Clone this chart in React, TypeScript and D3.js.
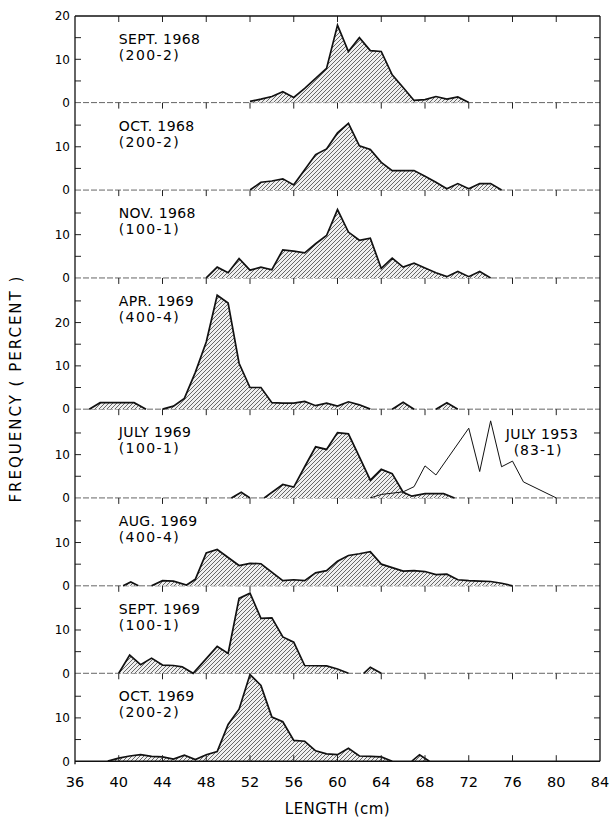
import React, { useEffect, useRef } from 'react';
import * as d3 from 'd3';

type Pt = [number, number];

// length (cm), frequency (percent)
const sept1968: Pt[] = [[52, 0.3], [53, 0.8], [54, 1.4], [55, 2.5], [56, 1.2], [57, 3.3], [58, 5.6], [59, 7.9], [60, 17.9], [61, 11.8], [62, 15], [63, 12], [64, 11.8], [65, 6.4], [66, 3.5], [67, 0.5], [68, 0.7], [69, 1.4], [70, 0.8], [71, 1.3], [72, 0]];
const oct1968: Pt[] = [[52, 0], [53, 1.8], [54, 2.1], [55, 2.6], [56, 1.2], [57, 4.7], [58, 8.2], [59, 9.5], [60, 13.2], [61, 15.4], [62, 10.2], [63, 9.4], [64, 6.4], [65, 4.5], [66, 4.5], [67, 4.5], [68, 3.2], [69, 1.8], [70, 0.3], [71, 1.5], [72, 0.3], [73, 1.5], [74, 1.5], [75, 0]];
const nov1968: Pt[] = [[48, 0], [49, 2.5], [50, 1.2], [51, 4.5], [52, 1.8], [53, 2.5], [54, 1.9], [55, 6.5], [56, 6.2], [57, 5.8], [58, 7.9], [59, 9.8], [60, 15.8], [61, 10.6], [62, 8.7], [63, 9.2], [64, 2.2], [65, 4.6], [66, 2.5], [67, 3.4], [68, 2.3], [69, 1.2], [70, 0.3], [71, 1.5], [72, 0.3], [73, 1.5], [74, 0]];
const apr1969: Pt[] = [[37.3, 0], [38.3, 1.5], [41.4, 1.5], [42.5, 0], [44, 0], [45, 0.7], [46, 2.5], [47, 8.5], [48, 15.5], [49, 26.3], [50, 24.5], [51, 10.6], [52, 5], [53, 5], [54, 1.5], [55, 1.4], [56, 1.4], [57, 1.8], [58, 0.8], [59, 1.4], [60, 0.7], [61, 1.7], [62, 1], [63, 0], [65, 0], [66, 1.6], [67, 0], [69, 0], [70, 1.5], [71, 0]];
const july1969: Pt[] = [[50.3, 0], [51.2, 1.3], [52, 0], [53.3, 0], [55, 3.1], [56, 2.5], [57, 7.2], [58, 11.8], [59, 11.2], [60, 15.1], [61, 14.8], [62, 9.5], [63, 4.1], [64, 6.6], [65, 5.6], [66, 1.3], [66.8, 0.4], [68, 1.0], [69.7, 1.0], [70.7, 0]];
const aug1969: Pt[] = [[40.4, 0], [41.1, 0.9], [41.8, 0], [43, 0], [44, 1.2], [45, 1.1], [46.2, 0.2], [47, 1.5], [48, 7.6], [49, 8.4], [51, 4.7], [52, 5.2], [53, 5.1], [55, 1.2], [56, 1.4], [57, 1.2], [58, 3.0], [59, 3.5], [60, 5.7], [61, 7.0], [62, 7.4], [63, 7.9], [64, 5.0], [66, 3.4], [67, 3.5], [68, 3.3], [69, 2.6], [70, 2.7], [71, 1.4], [72, 1.2], [73, 1.1], [74, 1.0], [75, 0.6], [76, 0]];
const sept1969: Pt[] = [[40, 0], [41, 4.2], [42, 2], [43, 3.5], [44, 1.9], [45, 1.8], [45.8, 1.5], [46.8, 0], [49, 6.2], [50, 4.6], [51, 17.3], [52, 18.5], [53, 12.7], [54, 12.8], [55, 8.4], [56, 7.2], [57, 1.8], [59, 1.7], [60, 1.0], [61, 0], [62.4, 0], [63, 1.4], [64, 0]];
const oct1969: Pt[] = [[39, 0], [40, 0.7], [41, 1.2], [42, 1.5], [43, 1.1], [44, 1.0], [45, 0.5], [46, 1.4], [47, 0.4], [48, 1.5], [49, 2.2], [50, 8.5], [51, 12], [52, 20], [53, 17.5], [54, 10.2], [55, 9.1], [56, 4.8], [57, 4.6], [58, 2.4], [59, 1.7], [60, 1.5], [61, 3.0], [62, 1.2], [63, 1.1], [64, 1.0], [65, 0], [66.8, 0], [67.5, 1.5], [68.4, 0]];

// comparison sample drawn as a plain line in the July 1969 panel
const july1953: Pt[] = [[63, 0], [64, 0.8], [66, 1.4], [67, 2.6], [68, 7.4], [69, 5.3], [72, 16.1], [73, 6.1], [74, 17.8], [75, 7.2], [76, 8.5], [77, 3.7], [80, 0]];

const panelNames = ['SEPT. 1968', 'OCT. 1968', 'NOV. 1968', 'APR. 1969', 'JULY 1969', 'AUG. 1969', 'SEPT. 1969', 'OCT. 1969'];
const panelSamples = ['(200-2)', '(200-2)', '(100-1)', '(400-4)', '(100-1)', '(400-4)', '(100-1)', '(200-2)'];
const panelSeries = [sept1968, oct1968, nov1968, apr1969, july1969, aug1969, sept1969, oct1969];
const panelMax = [20, 20.2, 20.3, 30.3, 20.5, 20.3, 20.2, 20.3];
const xTicks = [36, 40, 44, 48, 52, 56, 60, 64, 68, 72, 76, 80, 84];

const FONT = 'DejaVu Sans, sans-serif';

// break a series where it runs along the baseline (zero to zero)
function segments(data: Pt[]): Pt[][] {
  const out: Pt[][] = [];
  let cur: Pt[] = [];
  data.forEach((d, i) => {
    if (i > 0 && d[1] === 0 && data[i - 1][1] === 0) {
      if (cur.length > 1) out.push(cur);
      cur = [];
    }
    cur.push(d);
  });
  if (cur.length > 1) out.push(cur);
  return out;
}

export default function App() {
  const svgRef = useRef<SVGSVGElement>(null);

  useEffect(() => {
    if (!svgRef.current) return;
    const svg = d3.select(svgRef.current);
    svg.selectAll('*').remove();

    const left = 75;
    const right = 600;
    const top = 16;
    const k = 4.33; // px per percent

    const x = d3.scaleLinear().domain([36, 84]).range([left, right]);

    let acc = top;
    const panels = panelMax.map((m, i) => {
      const t = acc;
      acc += m * k;
      return { i, m, t, b: acc, y: d3.scaleLinear().domain([0, m]).range([acc, t]) };
    });
    const bottom = acc;

    const defs = svg.append('defs');
    const pat = defs
      .append('pattern')
      .attr('id', 'hatch')
      .attr('patternUnits', 'userSpaceOnUse')
      .attr('width', 4)
      .attr('height', 4);
    pat.append('rect').attr('width', 4).attr('height', 4).attr('fill', '#efefef');
    pat
      .append('path')
      .attr('d', 'M-1,1 l2,-2 M0,4 l4,-4 M3,5 l2,-2')
      .attr('stroke', '#3a3a3a')
      .attr('stroke-width', 0.75);

    const g = svg.append('g');

    // internal baselines
    panels.forEach(p => {
      if (p.i === panels.length - 1) return;
      g.append('line')
        .attr('x1', left).attr('x2', right)
        .attr('y1', p.b).attr('y2', p.b)
        .attr('stroke', '#555')
        .attr('stroke-width', 0.9)
        .attr('stroke-dasharray', '6 2');
    });

    panels.forEach(p => {
      const area = d3.area<Pt>()
        .x(d => x(d[0]))
        .y0(p.b)
        .y1(d => p.y(d[1]));
      const line = d3.line<Pt>()
        .x(d => x(d[0]))
        .y(d => p.y(d[1]));
      const segs = segments(panelSeries[p.i]);

      segs.forEach(s => {
        g.append('path').datum(s).attr('d', area).attr('fill', 'url(#hatch)');
      });
      segs.forEach(s => {
        g.append('path').datum(s)
          .attr('d', line)
          .attr('fill', 'none')
          .attr('stroke', '#111')
          .attr('stroke-width', 1.7)
          .attr('stroke-linejoin', 'miter')
          .attr('stroke-miterlimit', 6);
      });

      if (p.i === 4) {
        g.append('path').datum(july1953)
          .attr('d', line)
          .attr('fill', 'none')
          .attr('stroke', '#111')
          .attr('stroke-width', 1);
        g.append('text')
          .attr('x', 542).attr('y', p.t + 30)
          .attr('text-anchor', 'middle')
          .attr('font-family', FONT).attr('font-size', 14)
          .attr('letter-spacing', 0.4)
          .text('JULY 1953');
        g.append('text')
          .attr('x', 538).attr('y', p.t + 46)
          .attr('text-anchor', 'middle')
          .attr('font-family', FONT).attr('font-size', 14)
          .attr('letter-spacing', 1)
          .text('(83-1)');
      }

      // panel labels
      g.append('text')
        .attr('x', x(40)).attr('y', p.t + 28)
        .attr('font-family', FONT).attr('font-size', 14)
        .attr('letter-spacing', 0.4)
        .text(panelNames[p.i]);
      g.append('text')
        .attr('x', x(40)).attr('y', p.t + 44)
        .attr('font-family', FONT).attr('font-size', 14)
        .attr('letter-spacing', 1.4)
        .text(panelSamples[p.i]);

      // y ticks, both sides, pointing in
      const ticks = d3.range(5, p.m - 0.5, 5);
      ticks.forEach(v => {
        g.append('line')
          .attr('x1', left).attr('x2', left + 6)
          .attr('y1', p.y(v)).attr('y2', p.y(v))
          .attr('stroke', '#222').attr('stroke-width', 1);
        g.append('line')
          .attr('x1', right - 6).attr('x2', right)
          .attr('y1', p.y(v)).attr('y2', p.y(v))
          .attr('stroke', '#222').attr('stroke-width', 1);
      });
      const labels = [0, ...ticks.filter(v => v % 10 === 0)];
      if (p.i === 0) labels.push(p.m);
      labels.forEach(v => {
        g.append('text')
          .attr('x', left - 5).attr('y', p.y(v))
          .attr('dy', '0.36em')
          .attr('text-anchor', 'end')
          .attr('font-family', FONT).attr('font-size', 12)
          .text(String(v));
      });

      // x ticks hanging from the panel's top line
      xTicks.slice(1, -1).forEach(v => {
        g.append('line')
          .attr('x1', x(v)).attr('x2', x(v))
          .attr('y1', p.t).attr('y2', p.t + 6)
          .attr('stroke', '#222').attr('stroke-width', 1);
      });
    });

    // frame
    g.append('line').attr('x1', left).attr('x2', right).attr('y1', top).attr('y2', top)
      .attr('stroke', '#111').attr('stroke-width', 1.3);
    g.append('line').attr('x1', left).attr('x2', right).attr('y1', bottom).attr('y2', bottom)
      .attr('stroke', '#111').attr('stroke-width', 1.4);
    g.append('line').attr('x1', left).attr('x2', left).attr('y1', top).attr('y2', bottom + 3)
      .attr('stroke', '#111').attr('stroke-width', 1.3);
    g.append('line').attr('x1', right).attr('x2', right).attr('y1', top).attr('y2', bottom)
      .attr('stroke', '#111').attr('stroke-width', 1.3);

    // bottom axis
    const xAxis = g.append('g');
    xTicks.forEach(v => {
      if (v > 36 && v < 84) {
        xAxis.append('line')
          .attr('x1', x(v)).attr('x2', x(v))
          .attr('y1', bottom - 6).attr('y2', bottom)
          .attr('stroke', '#222').attr('stroke-width', 1);
      }
      xAxis.append('text')
        .attr('x', x(v)).attr('y', bottom + 26)
        .attr('text-anchor', 'middle')
        .attr('font-family', FONT).attr('font-size', 14.5)
        .text(String(v));
    });

    svg.append('text')
      .attr('x', x(60)).attr('y', 814)
      .attr('text-anchor', 'middle')
      .attr('font-family', FONT).attr('font-size', 15)
      .attr('letter-spacing', 0.5)
      .text('LENGTH (cm)');

    svg.append('text')
      .attr('transform', `translate(21,${(top + bottom) / 2}) rotate(-90)`)
      .attr('text-anchor', 'middle')
      .attr('font-family', FONT).attr('font-size', 15)
      .attr('letter-spacing', 2)
      .text('FREQUENCY ( PERCENT )');
  }, []);

  return (
    <svg
      ref={svgRef}
      width={610}
      height={819}
      style={{ position: 'absolute', left: 0, top: 0, background: '#fff' }}
    />
  );
}
